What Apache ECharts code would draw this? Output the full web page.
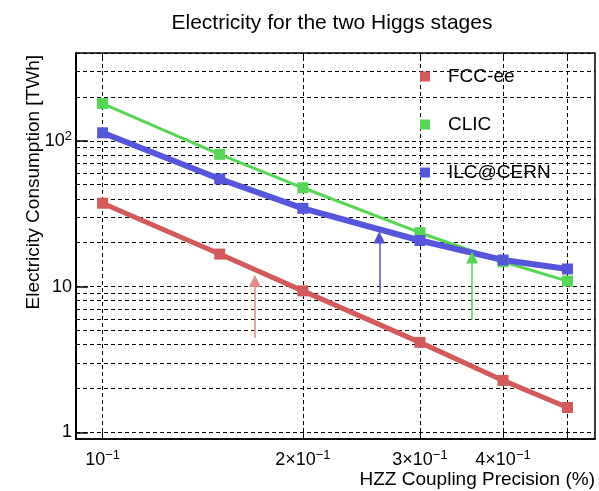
<!DOCTYPE html>
<html><head><meta charset="utf-8">
<script src="https://cdn.jsdelivr.net/npm/echarts@6/dist/echarts.min.js"></script>
<style>html,body{margin:0;padding:0;background:#fff}#c{width:599px;height:491px}</style>
</head><body><div id="c"></div>
<script>
// ---- data ----
const xValues   = [0.1, 0.15, 0.2, 0.3, 0.4, 0.5];
const fccValues = [37.3, 16.7, 9.34, 4.14, 2.27, 1.48];
const clicValues = [180, 80.7, 47.6, 23.4, 14.8, 10.9];
const ilcValues = [113.4, 54.7, 34.4, 20.7, 15.2, 13.2];

// arrows: x position, start value, end value (data units)
const fccArrow  = [0.1694, 4.43, 10.9];
const ilcArrow  = [0.2606, 9.1, 21.7];
const clicArrow = [0.3594, 5.91, 15.8];

// ticks / labels
const xTickValues  = [0.1, 0.2, 0.3, 0.4, 0.5];
const xLabelValues = [0.1, 0.2, 0.3, 0.4];
const xLabelTexts  = ['10{s|\u22121}', '2\u00d710{s|\u22121}', '3\u00d710{s|\u22121}', '4\u00d710{s|\u22121}'];
const yTickValues  = [1, 10, 100];
const yLabelTexts  = ['1', '10', '10{s|2}'];
const yGridValues  = [1,2,3,4,5,6,7,8,9,10,20,30,40,50,60,70,80,90,100,200,300,400];

const FONT = 'Liberation Sans, Arial, Helvetica, sans-serif';
const C_FCC = '#d25a5a', C_CLIC = '#55d755', C_ILC = '#5656dc';

function pick(vals, texts, v) {
  const i = vals.findIndex(t => Math.abs(Math.log10(t) - Math.log10(v)) < 1e-6);
  return i >= 0 ? texts[i] : '';
}
function zip(xs, ys) { return xs.map((x, i) => [x, ys[i]]); }
function arrowLine(a) { return [[{coord: [a[0], a[1]]}, {coord: [a[0], a[2]]}]]; }

const supRich = { s: { fontSize: 13, fontFamily: FONT, color: '#000', verticalAlign: 'top', lineHeight: 22 } };

const chart = echarts.init(document.getElementById('c'), null, {renderer: 'canvas'});
const gridMarks = { silent: true, z: 1, symbol: 'none', animation: false,
  label: {show: false},
  lineStyle: {type: [4, 3], color: '#000', width: 1, opacity: 1},
  emphasis: {disabled: true},
  data: yGridValues.map(v => ({yAxis: v})).concat(xTickValues.map(v => ({xAxis: v})))
};
function arrowMark(a, color) {
  return { silent: true, z: 4, symbol: ['none', 'triangle'], symbolSize: 12, animation: false,
    label: {show: false}, emphasis: {disabled: true},
    lineStyle: {type: 'solid', color: color, width: 1.5, opacity: 1},
    itemStyle: {color: color},
    data: arrowLine(a) };
}

const legendBase = (name, top) => ({
  data: [name], left: 420, top: top, padding: 0, icon: 'rect', itemWidth: 10, itemHeight: 10,
  selectedMode: false,
  textStyle: {fontFamily: FONT, fontSize: 19, color: '#000', padding: [0, 0, 0, 13]}
});

chart.setOption({
  animation: false,
  backgroundColor: '#fff',
  title: { text: 'Electricity for the two Higgs stages', left: 327, top: 8, textAlign: 'center',
    textStyle: {fontFamily: FONT, fontSize: 21, fontWeight: 'normal', color: '#000'} },
  legend: [legendBase('FCC-ee', 67), legendBase('CLIC', 115), legendBase('ILC@CERN', 163)],
  grid: { left: 76, right: 4, top: 53, bottom: 52, show: true, borderColor: '#000', borderWidth: 1.5, containLabel: false },
  xAxis: [{
    type: 'log', logBase: 10, min: 0.0912, max: 0.55, position: 'bottom',
    axisLine: {show: true, lineStyle: {color: '#000', width: 1.5}},
    axisTick: {show: true, inside: true, length: 8, customValues: xTickValues, lineStyle: {color: '#000', width: 1}},
    minorTick: {show: false}, splitLine: {show: false}, minorSplitLine: {show: false},
    axisLabel: {customValues: xLabelValues, margin: 10, fontFamily: FONT, fontSize: 18, color: '#000',
      lineHeight: 22, rich: supRich,
      formatter: v => pick(xLabelValues, xLabelTexts, v)}
  }, {
    type: 'log', logBase: 10, min: 0.0912, max: 0.55, position: 'top',
    axisLine: {show: false},
    axisTick: {show: true, inside: true, length: 8, customValues: xTickValues, lineStyle: {color: '#000', width: 1}},
    axisLabel: {show: false}, splitLine: {show: false}
  }],
  yAxis: {
    type: 'log', logBase: 10, min: 0.9, max: 400,
    axisLine: {show: true, lineStyle: {color: '#000', width: 2}},
    axisTick: {show: true, inside: true, length: 12, customValues: yTickValues, lineStyle: {color: '#000', width: 1.5}},
    minorTick: {show: false}, splitLine: {show: false}, minorSplitLine: {show: false},
    axisLabel: {customValues: yTickValues, margin: 4, fontFamily: FONT, fontSize: 18, color: '#000',
      lineHeight: 22, rich: supRich,
      formatter: v => pick(yTickValues, yLabelTexts, v)}
  },
  graphic: [
    { type: 'text', x: 34, y: 55, rotation: Math.PI / 2, silent: true,
      style: {text: 'Electricity Consumption [TWh]', fontFamily: FONT, fontSize: 19, fill: '#000',
        align: 'right', verticalAlign: 'middle'} },
    { type: 'text', x: 595, y: 480, silent: true,
      style: {text: 'HZZ Coupling Precision (%)', fontFamily: FONT, fontSize: 19, fill: '#000',
        align: 'right', verticalAlign: 'middle'} }
  ],
  series: [
    { name: 'grid', type: 'line', data: [], silent: true, z: 1, markLine: gridMarks },
    { name: 'FCC-ee', type: 'line', z: 3, data: zip(xValues, fccValues), symbol: 'rect', symbolSize: 11,
      lineStyle: {color: C_FCC, width: 5}, itemStyle: {color: C_FCC}, emphasis: {disabled: true},
      markLine: arrowMark(fccArrow, '#e08a8a') },
    { name: 'CLIC', type: 'line', z: 3, data: zip(xValues, clicValues), symbol: 'rect', symbolSize: 11,
      lineStyle: {color: C_CLIC, width: 3}, itemStyle: {color: C_CLIC}, emphasis: {disabled: true},
      markLine: arrowMark(clicArrow, '#55d455') },
    { name: 'ILC@CERN', type: 'line', z: 3, data: zip(xValues, ilcValues), symbol: 'rect', symbolSize: 11,
      lineStyle: {color: C_ILC, width: 6}, itemStyle: {color: C_ILC}, emphasis: {disabled: true},
      markLine: arrowMark(ilcArrow, '#5252d2') }
  ]
});
</script></body></html>
